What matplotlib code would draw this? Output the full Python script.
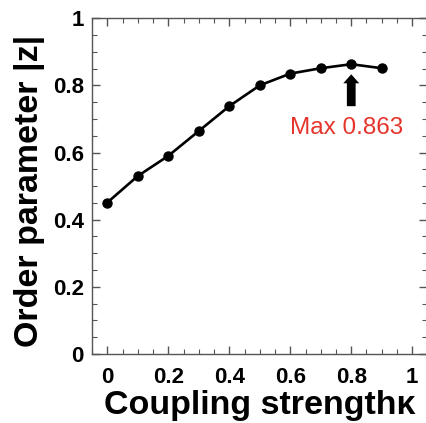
import numpy as np
import matplotlib
matplotlib.use("Agg")
from matplotlib import pyplot as plt
from matplotlib.ticker import MultipleLocator

kappa = [0.0, 0.1, 0.2, 0.3, 0.4, 0.5, 0.6, 0.7, 0.8, 0.9]
order_param = [0.451, 0.530, 0.590, 0.664, 0.738, 0.800, 0.835, 0.851, 0.863, 0.851]
max_label = "Max 0.863"

plt.rcParams['font.family'] = ['Liberation Sans', 'DejaVu Sans']

fig = plt.figure(figsize=(4.26, 4.23), dpi=100)
ax = fig.add_axes([0.216, 0.163, 0.7875, 0.794])

ax.plot(kappa, order_param, color='black', lw=1.9, marker='o', ms=6.5, zorder=3)

# arrow pointing at the maximum
i_max = int(np.argmax(order_param))
ax.annotate('', xy=(kappa[i_max], order_param[i_max] - 0.03),
            xytext=(kappa[i_max], order_param[i_max] - 0.125),
            arrowprops=dict(arrowstyle='simple,head_length=0.65,head_width=1.15,tail_width=0.63',
                            color='black', lw=0, shrinkA=0, shrinkB=0))
ax.text(kappa[i_max] - 0.015, order_param[i_max] - 0.19, max_label, color='#e5352d',
        fontsize=17.5, ha='center', va='center')

ax.set_xlim(-0.05, 1.05)
ax.set_ylim(0, 1)
ax.xaxis.set_minor_locator(MultipleLocator(0.05))
ax.yaxis.set_minor_locator(MultipleLocator(0.05))
ax.set_xticks([0, 0.2, 0.4, 0.6, 0.8, 1])
ax.set_xticklabels(['0', '0.2', '0.4', '0.6', '0.8', '1'])
ax.set_yticks([0, 0.2, 0.4, 0.6, 0.8, 1])
ax.set_yticklabels(['0', '0.2', '0.4', '0.6', '0.8', '1'])

ax.tick_params(which='both', direction='in', top=True, right=True, color='#555555')
ax.tick_params(which='major', length=6, width=1, labelsize=16, pad=6)
ax.tick_params(axis='x', which='major', pad=9)
ax.tick_params(which='minor', length=3.5, width=0.8)
for lab in ax.get_xticklabels() + ax.get_yticklabels():
    lab.set_fontweight('bold')
for sp in ax.spines.values():
    sp.set_color('#555555')
    sp.set_linewidth(1)

ax.set_xlabel('Coupling strength\u03ba', fontsize=24.5, fontweight='bold', labelpad=2)
ax.set_ylabel('Order parameter |z|', fontsize=24.5, fontweight='bold')
ax.yaxis.set_label_coords(-0.14, 0.487)

fig.savefig('out.png', dpi=100)
